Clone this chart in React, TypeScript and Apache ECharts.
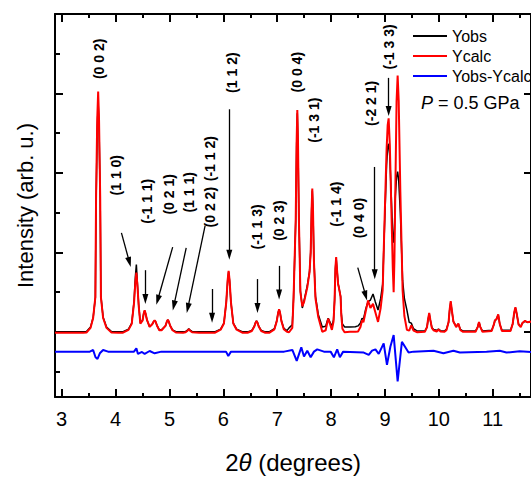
import React, { useEffect, useRef } from "react";
import * as echarts from "echarts";

const FONT = "'Liberation Sans', Arial, Helvetica, sans-serif";

// 2-theta positions (degrees) shared by observed / calculated patterns
const twoTheta = [
  2.876, 3.30, 3.40, 3.46, 3.536, 3.584, 3.625, 3.638, 3.660, 3.677, 3.693, 3.715, 3.728, 3.769, 3.832, 3.924, 4.05,
  4.13, 4.24, 4.30, 4.343, 4.368, 4.386, 4.404, 4.429, 4.460, 4.50, 4.522, 4.540, 4.558, 4.583, 4.632, 4.680, 4.707, 4.725, 4.743, 4.768, 4.812, 4.854, 4.927, 4.952, 4.970, 4.988, 5.013, 5.057, 5.12, 5.25, 5.30, 5.336, 5.359, 5.382, 5.42, 5.55,
  5.84, 5.95, 6.011, 6.055, 6.080, 6.098, 6.116, 6.141, 6.185, 6.246, 6.36, 6.45, 6.529, 6.573, 6.598, 6.616, 6.634, 6.659, 6.703, 6.78, 6.85, 6.948, 6.992, 7.017, 7.035, 7.053, 7.078, 7.122, 7.18,
  7.22, 7.28, 7.303, 7.343, 7.360, 7.373, 7.386, 7.403, 7.43, 7.466, 7.50, 7.558, 7.60, 7.621, 7.638, 7.651, 7.664, 7.681, 7.71, 7.762, 7.836, 7.90, 7.93, 7.946, 7.96, 8.015, 8.045, 8.065, 8.080, 8.094, 8.108, 8.13, 8.144, 8.176, 8.19, 8.21, 8.25,
  8.35, 8.45, 8.50, 8.545, 8.575, 8.60, 8.64, 8.686, 8.73, 8.778, 8.82, 8.871, 8.92, 8.957, 8.99, 9.03, 9.050, 9.068, 9.09, 9.12, 9.145, 9.161, 9.175, 9.192, 9.215, 9.235, 9.255, 9.285, 9.327, 9.36, 9.407,
  9.45, 9.488, 9.53, 9.60, 9.74, 9.78, 9.80, 9.821, 9.84, 9.87, 9.90, 9.96, 9.993, 10.03, 10.10, 10.14, 10.18, 10.20, 10.220, 10.24, 10.27, 10.30, 10.32, 10.362, 10.40, 10.45, 10.68, 10.72, 10.745, 10.77, 10.81, 10.98, 11.02, 11.04, 11.07, 11.102, 11.13, 11.17, 11.33, 11.37, 11.40, 11.421, 11.445, 11.48, 11.52, 11.55, 11.60, 11.64, 11.72,
];

const yCalc = [
  -12, -12, -10, -8, 50, 174, 436, 1681, 2677, 3025, 2677, 1681, 436, 174, 50, -8, -12,
  -12, 25, 100, 367, 635, 747, 600, 330, 103, 140, 230, 270, 230, 150, 62, 95, 130, 146, 130, 80, 20, 20, 76, 130, 153, 130, 76, 20, -8, -12, -5, 14, 34, 14, -5, -12,
  -12, 27, 105, 378, 651, 768, 651, 378, 105, 27, -12, -12, 10, 63, 115, 137, 115, 63, 10, -12, -12, 32, 135, 239, 283, 239, 135, 32, 0,
  -5, 50, 420, 1400, 2380, 2793, 2380, 1400, 500, 320, 380, 560, 750, 1000, 1540, 1805, 1540, 900, 420, 187, 0, 20, 120, 166, 140, 25, 130, 400, 800, 942, 800, 600, 560, 440, 200, 40, -5,
  0, 0, 5, 60, 146, 120, 250, 395, 300, 352, 250, 125, 300, 523, 1348, 2300, 2600, 2686, 2350, 1500, 800, 498, 900, 1768, 2900, 3225, 2900, 1768, 523, 200, 25,
  15, 83, 15, -5, 0, 60, 160, 237, 160, 50, 20, 5, 29, 5, 0, 20, 120, 280, 386, 280, 130, 90, 60, 103, 20, 0, 0, 60, 125, 60, 0, 10, 90, 146, 160, 220, 100, 10, 10, 100, 250, 311, 230, 90, 60, 110, 140, 120, 130,
];

const yObs = [
  0, 0, 2, 5, 60, 180, 430, 1600, 2550, 2880, 2600, 1650, 450, 185, 60, 5, 0,
  0, 35, 110, 380, 700, 847, 620, 340, 110, 145, 230, 265, 225, 150, 65, 95, 128, 142, 128, 82, 25, 25, 78, 128, 150, 128, 78, 25, 2, 0, 5, 20, 38, 20, 5, 0,
  0, 35, 110, 375, 640, 755, 640, 375, 110, 35, 0, 0, 18, 68, 118, 138, 118, 68, 18, 0, 0, 40, 140, 240, 280, 240, 140, 45, 15,
  50, 90, 430, 1380, 2330, 2750, 2350, 1420, 520, 300, 400, 580, 760, 1000, 1520, 1780, 1530, 920, 450, 220, 60, 70, 140, 170, 150, 70, 150, 400, 790, 930, 800, 610, 560, 450, 230, 100, 62,
  62, 65, 75, 110, 170, 160, 280, 380, 400, 477, 380, 274, 420, 600, 1300, 2100, 2330, 2366, 2200, 1650, 1200, 1121, 1300, 1700, 1950, 2017, 1900, 1500, 650, 420, 274,
  120, 110, 40, 10, 10, 60, 150, 230, 150, 55, 30, 20, 35, 15, 10, 30, 120, 270, 370, 270, 130, 95, 70, 100, 30, 10, 10, 60, 120, 60, 10, 20, 90, 140, 160, 215, 100, 20, 20, 100, 240, 300, 225, 95, 70, 110, 135, 120, 125,
];

// Difference curve (offset below the patterns)
const diffTheta = [
  2.876, 3.523, 3.584, 3.628, 3.665, 3.708, 3.769, 3.861, 4.342, 4.386, 4.416, 4.490, 4.540, 4.632, 4.725, 4.85,
  6.050, 6.092, 6.142, 7.128, 7.281, 7.362, 7.447, 7.497, 7.558, 7.621, 7.682, 7.743, 7.867, 7.991, 8.052, 8.113,
  8.163, 8.224, 8.606, 8.699, 8.760, 8.823, 8.884, 8.976, 9.037, 9.100, 9.161, 9.235, 9.314, 9.438, 9.530, 9.900,
  10.085, 10.27, 10.39, 10.885, 11.13, 11.255, 11.50, 11.71,
];
const yDiff = [
  -249, -249, -228, -320, -340, -270, -228, -249, -249, -208, -278, -253, -278, -241, -270, -249,
  -249, -303, -249, -249, -228, -365, -195, -311, -237, -320, -249, -220, -249, -249, -320, -220,
  -320, -249, -261, -290, -237, -220, -278, -145, -415, -187, -41, -623, -125, -261, -249, -237,
  -270, -237, -261, -249, -237, -261, -245, -253,
];

// Reflection labels
const hklText = ["(0 0 2)", "(1 1 0)", "(-1 1 1)", "(0 2 1)", "(1 1 1)", "(0 2 2)", "(-1 1 2)", "(1 1 2)", "(-1 1 3)", "(0 2 3)", "(0 0 4)", "(-1 3 1)", "(-1 1 4)", "(0 4 0)", "(-2 2 1)", "(-1 3 3)"];
const hklTheta = [3.69, 4.016, 4.586, 4.983, 5.372, 5.76, 5.76, 6.161, 6.634, 7.035, 7.373, 7.682, 8.083, 8.514, 8.749, 9.068];
const hklHeight = [3436, 1971, 1643, 1730, 1755, 1569, 2179, 3262, 1320, 1400, 3268, 2664, 1606, 1432, 2876, 3586];

// Arrows: [theta start, intensity start, theta end, intensity end]
const arrows = [
  [4.109, 1245, 4.257, 878],
  [4.553, 776, 4.553, 414],
  [5.060, 1067, 4.782, 401],
  [5.311, 1058, 5.082, 331],
  [5.662, 1336, 5.341, 299],
  [5.791, 539, 5.791, 178],
  [6.111, 2801, 6.111, 971],
  [6.634, 664, 6.634, 299],
  [7.035, 830, 7.035, 469],
  [8.495, 809, 8.642, 455],
  [8.810, 2075, 8.810, 726],
  [9.068, 3196, 9.068, 2780],
];

const xMajor = [3, 4, 5, 6, 7, 8, 9, 10, 11];
const xMinor = [3.5, 4.5, 5.5, 6.5, 7.5, 8.5, 9.5, 10.5, 11.5];
const yMajor = [0, 1000, 2000, 3000];
const yMinor = [-500, 500, 1500, 2500, 3500];

const X_MIN = 2.876;
const X_MAX = 11.71;
const Y_MIN = -820;
const Y_MAX = 4000;

function zip(xs: number[], ys: number[]) {
  return xs.map((x, i) => [x, ys[i]]);
}

const axisLineStyle = { color: "#000", width: 2 };

function xAxisDef(position: "top" | "bottom", major: boolean, main: boolean) {
  return {
    type: "value",
    position,
    min: X_MIN,
    max: X_MAX,
    splitLine: { show: false },
    axisLine: { show: main, onZero: false, lineStyle: axisLineStyle },
    axisTick: {
      show: true,
      inside: true,
      length: major ? 8 : 4,
      lineStyle: { color: "#000", width: 2 },
      customValues: major ? xMajor : xMinor,
    },
    axisLabel: main && position === "bottom"
      ? { show: true, customValues: xMajor, fontSize: 20, color: "#000", fontFamily: FONT, margin: 12 }
      : { show: false },
    ...(main && position === "bottom"
      ? {
          name: "2{i|θ} (degrees)",
          nameLocation: "middle",
          nameGap: 53,
          nameTextStyle: {
            fontSize: 24,
            color: "#000",
            fontFamily: FONT,
            rich: { i: { fontSize: 24, fontStyle: "italic", fontFamily: FONT, color: "#000" } },
          },
        }
      : {}),
  };
}

function yAxisDef(position: "left" | "right", major: boolean, main: boolean) {
  return {
    type: "value",
    position,
    min: Y_MIN,
    max: Y_MAX,
    splitLine: { show: false },
    axisLine: { show: main, onZero: false, lineStyle: axisLineStyle },
    axisTick: {
      show: true,
      inside: true,
      length: major ? (position === "left" ? 8 : 7) : 5,
      lineStyle: { color: "#000", width: 2 },
      customValues: major ? yMajor : yMinor,
    },
    axisLabel: { show: false },
    ...(main && position === "left"
      ? {
          name: "Intensity (arb. u.)",
          nameLocation: "middle",
          nameGap: 19,
          nameTextStyle: { fontSize: 22, color: "#000", fontFamily: FONT },
        }
      : {}),
  };
}

export default function App() {
  const ref = useRef<HTMLDivElement>(null);

  useEffect(() => {
    if (!ref.current) return;
    const chart = echarts.init(ref.current, undefined, { renderer: "svg" });

    const option: any = {
      animation: false,
      backgroundColor: "#fff",
      textStyle: { fontFamily: FONT },
      grid: { left: 55, right: -2, top: 14, bottom: 78, containLabel: false },
      xAxis: [
        xAxisDef("bottom", true, true),
        xAxisDef("bottom", false, false),
        xAxisDef("top", true, true),
        xAxisDef("top", false, false),
      ],
      yAxis: [
        yAxisDef("left", true, true),
        yAxisDef("left", false, false),
        yAxisDef("right", true, true),
      ],
      legend: {
        orient: "vertical",
        left: 413,
        top: 27,
        padding: 0,
        itemWidth: 34,
        itemHeight: 2,
        itemGap: 2,
        icon: "rect",
        textStyle: { fontSize: 16, color: "#000", fontFamily: FONT, lineHeight: 18 },
        data: ["Yobs", "Ycalc", "Yobs-Ycalc"],
      },
      graphic: [
        {
          type: "text",
          left: 421,
          top: 94,
          style: {
            text: "{i|P} = 0.5 GPa",
            fontSize: 18,
            fontFamily: FONT,
            fill: "#000",
            rich: { i: { fontStyle: "italic", fontSize: 18, fontFamily: FONT, fill: "#000" } },
          },
        },
      ],
      series: [
        {
          name: "Yobs",
          type: "line",
          color: "#000",
          data: zip(twoTheta, yObs),
          showSymbol: false,
          symbol: "none",
          lineStyle: { color: "#000", width: 1.5 },
          z: 2,
        },
        {
          name: "Ycalc",
          type: "line",
          color: "#ff0000",
          data: zip(twoTheta, yCalc),
          showSymbol: false,
          symbol: "none",
          lineStyle: { color: "#ff0000", width: 2 },
          z: 3,
          markLine: {
            silent: true,
            symbol: ["none", "triangle"],
            symbolSize: [6, 10],
            label: { show: false },
            lineStyle: { color: "#000", width: 1.3, type: "solid" },
            itemStyle: { color: "#000" },
            data: arrows.map((a) => [
              { coord: [a[0], a[1]], symbol: "none" },
              { coord: [a[2], a[3]], symbol: "triangle" },
            ]),
          },
          markPoint: {
            silent: true,
            symbol: "circle",
            symbolSize: 1,
            itemStyle: { color: "rgba(0,0,0,0)" },
            label: {
              show: true,
              position: "inside",
              rotate: 90,
              formatter: "{b}",
              fontSize: 14,
              fontWeight: "bold",
              color: "#000",
              fontFamily: FONT,
            },
            data: hklText.map((t, i) => ({ name: t, coord: [hklTheta[i], hklHeight[i]] })),
          },
        },
        {
          name: "Yobs-Ycalc",
          type: "line",
          color: "#0000ff",
          data: zip(diffTheta, yDiff),
          showSymbol: false,
          symbol: "none",
          lineStyle: { color: "#0000ff", width: 2 },
          z: 4,
        },
      ],
    };

    chart.setOption(option);
    return () => chart.dispose();
  }, []);

  return (
    <div
      ref={ref}
      style={{ position: "absolute", left: 0, top: 0, width: 531, height: 479, background: "#fff" }}
    />
  );
}
